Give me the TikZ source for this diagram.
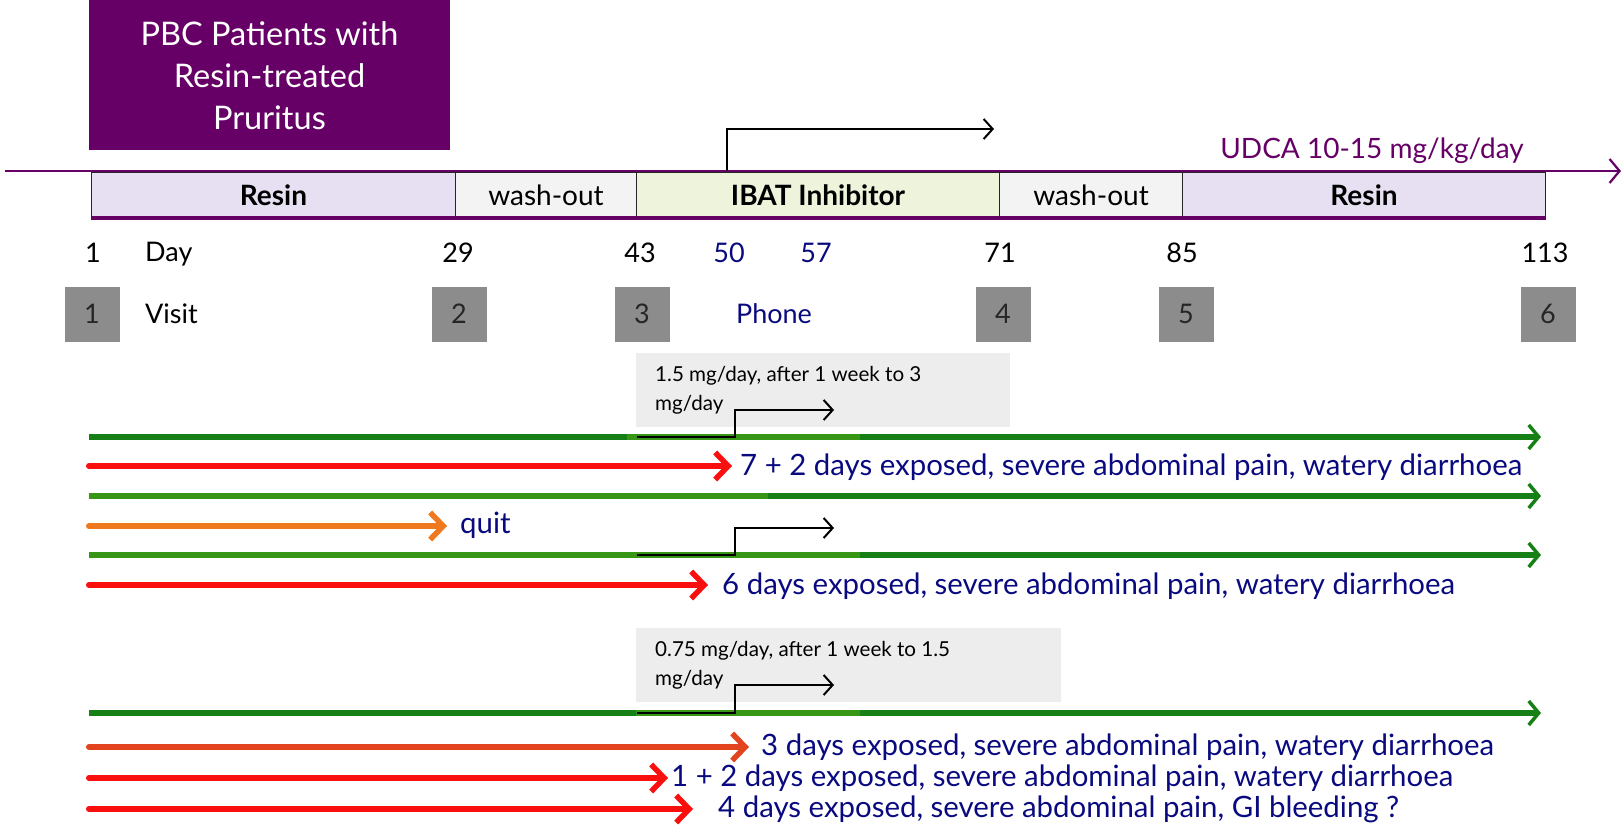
\documentclass[tikz,border=0pt]{standalone}
\usepackage{fontspec}
\setmainfont{Lato}
\usetikzlibrary{arrows.meta}
\definecolor{udca}{RGB}{102,0,102}
\definecolor{lav}{RGB}{230,224,242}
\definecolor{wash}{RGB}{243,243,243}
\definecolor{ibat}{RGB}{238,243,220}
\definecolor{navytxt}{RGB}{10,10,128}
\definecolor{gdark}{RGB}{22,128,22}
\definecolor{glight}{RGB}{55,150,22}
\definecolor{redarr}{RGB}{250,15,15}
\definecolor{orarr}{RGB}{240,120,30}
\definecolor{redor}{RGB}{226,68,32}
\definecolor{sqgray}{RGB}{140,140,140}
\definecolor{notegray}{RGB}{237,237,237}
\tikzset{
  fs/.style={font=\fontsize{#1}{#1}\selectfont},
  phase/.style={draw=black!85, line width=1pt, anchor=north west, minimum height=45pt, inner sep=0pt, fs=28},
  sq/.style={fill=sqgray, minimum size=55pt, inner sep=0pt, text=black!85, fs=27},
  daylbl/.style={fs=27, inner sep=0pt},
  notebox/.style={fill=notegray, anchor=north west, inner sep=0pt},
  notetxt/.style={anchor=north west, align=left, inner sep=0pt, font=\fontsize{20.6}{29.5}\selectfont},
  lbl/.style={anchor=west, inner sep=0pt, text=navytxt, fs=29.4},
  garrow/.style={line width=5.5pt, -{Straight Barb[length=10pt,width=24pt,line width=3.5pt]}},
  rarrow/.style={line width=6pt, line cap=round, -{Straight Barb[length=13pt,width=27pt,line width=5.5pt]}},
  bent/.style={line width=2.5pt, -{Straight Barb[length=9pt,width=20pt,line width=2pt]}},
}
\begin{document}
\begin{tikzpicture}[x=1pt,y=-1pt]
\useasboundingbox (0,0) rectangle (1624,834);

% title box
\node[fill=udca, anchor=north west, minimum width=360.5pt, minimum height=150pt, inner sep=0pt,
      text=white, align=center, font=\fontsize{32.5}{42}\selectfont] (pbc) at (89,0)
      {PBC Patients with\\Resin-treated\\Pruritus};

% phase bars
\node[phase, fill=lav,  minimum width=364pt] (resin1) at (91,172) {\bfseries Resin};
\node[phase, fill=wash, minimum width=181pt] (wash1)  at (455,172) {wash-out};
\node[phase, fill=ibat, minimum width=363pt] (ibat)   at (636,172) {\bfseries IBAT Inhibitor};
\node[phase, fill=wash, minimum width=183pt] (wash2)  at (999,172) {wash-out};
\node[phase, fill=lav,  minimum width=363pt] (resin2) at (1182,172) {\bfseries Resin};
\draw[udca, line width=4pt] (resin1.south west) -- (resin2.south east);

% UDCA arrow
\coordinate (udcaL) at (5,171);
\coordinate (udcaR) at (1621,171);
\draw[udca, line width=2.5pt, -{Straight Barb[length=10pt,width=24pt,line width=2.2pt]}] (udcaL) -- (udcaR);
\node[text=udca, fs=28, inner sep=0pt] (udcalbl) at (1372,151) {UDCA 10-15 mg/kg/day};

% top bent arrow
\coordinate (topA) at (727,171);
\coordinate (topB) at (994,129);
\draw[bent] (topA) |- (topB);

% day row
\node[daylbl] (d1) at (93,253) {1};
\node[daylbl, anchor=west] (dday) at (145,254) {Day};
\node[daylbl] (d29) at (458,253) {29};
\node[daylbl] (d43) at (640,253) {43};
\node[daylbl, text=navytxt] (d50) at (729,253) {50};
\node[daylbl, text=navytxt] (d57) at (816,253) {57};
\node[daylbl] (d71) at (1000,253) {71};
\node[daylbl] (d85) at (1182,253) {85};
\node[daylbl] (d113) at (1545,253) {113};

% visit row
\node[sq] (v1) at (92,314) {1};
\node[daylbl, anchor=west] (visit) at (145,314) {Visit};
\node[sq] (v2) at (459,314) {2};
\node[sq] (v3) at (642,314) {3};
\node[daylbl, text=navytxt] (phone) at (774,314) {Phone};
\node[sq] (v4) at (1003,314) {4};
\node[sq] (v5) at (1186,314) {5};
\node[sq] (v6) at (1548,314) {6};

% note box 1
\node[notebox, minimum width=374pt, minimum height=74pt] (note1) at (636,353) {};
\node[notetxt] (note1t) at (655,366) {1.5 mg/day, after 1 week to 3\\mg/day};

% note box 2
\node[notebox, minimum width=425pt, minimum height=74pt] (note2) at (636,628) {};
\node[notetxt] (note2t) at (655,641) {0.75 mg/day, after 1 week to 1.5\\mg/day};

% row 1 green
\coordinate (g1s) at (89,437); \coordinate (g1e) at (1541,437);
\draw[gdark, garrow] (g1s) -- (g1e);
\draw[glight, line width=5.5pt] (627,437) -- (860,437);
\coordinate (b1s) at (637,437); \coordinate (b1e) at (834,410);
\draw[bent] (b1s) -- (735,437) |- (b1e);

% row 2 red
\coordinate (r2s) at (89,466); \coordinate (r2e) at (732,466);
\draw[redarr, rarrow] (r2s) -- (r2e);
\node[lbl] (l2) at (740,467) {7 + 2 days exposed, severe abdominal pain, watery diarrhoea};

% row 3 green
\coordinate (g3s) at (89,496); \coordinate (g3e) at (1541,496);
\draw[gdark, garrow] (g3s) -- (g3e);
\draw[glight, line width=5.5pt] (89,496) -- (768,496);

% row 4 orange
\coordinate (o4s) at (89,526); \coordinate (o4e) at (447,526);
\draw[orarr, rarrow] (o4s) -- (o4e);
\node[lbl] (l4) at (460,525) {quit};

% row 5 green
\coordinate (g5s) at (89,555); \coordinate (g5e) at (1541,555);
\draw[gdark, garrow] (g5s) -- (g5e);
\draw[glight, line width=5.5pt] (89,555) -- (860,555);
\coordinate (b5s) at (637,555); \coordinate (b5e) at (834,528);
\draw[bent] (b5s) -- (735,555) |- (b5e);

% row 6 red
\coordinate (r6s) at (89,585); \coordinate (r6e) at (708,585);
\draw[redarr, rarrow] (r6s) -- (r6e);
\node[lbl] (l6) at (722,586) {6 days exposed, severe abdominal pain, watery diarrhoea};

% row 7 green
\coordinate (g7s) at (89,713); \coordinate (g7e) at (1541,713);
\draw[gdark, garrow] (g7s) -- (g7e);
\draw[glight, line width=5.5pt] (636,713) -- (860,713);
\coordinate (b7s) at (637,713); \coordinate (b7e) at (834,685);
\draw[bent] (b7s) -- (735,713) |- (b7e);

% row 8
\coordinate (r8s) at (89,747); \coordinate (r8e) at (749,747);
\draw[redor, rarrow] (r8s) -- (r8e);
\node[lbl] (l8) at (761,747) {3 days exposed, severe abdominal pain, watery diarrhoea};

% row 9
\coordinate (r9s) at (89,778); \coordinate (r9e) at (668,778);
\draw[redarr, rarrow] (r9s) -- (r9e);
\node[lbl] (l9) at (671,778) {1 + 2 days exposed, severe abdominal pain, watery diarrhoea};

% row 10
\coordinate (r10s) at (89,809); \coordinate (r10e) at (693,809);
\draw[redarr, rarrow] (r10s) -- (r10e);
\node[lbl] (l10) at (718,809) {4 days exposed, severe abdominal pain, GI bleeding ?};
\end{tikzpicture}
\end{document}
